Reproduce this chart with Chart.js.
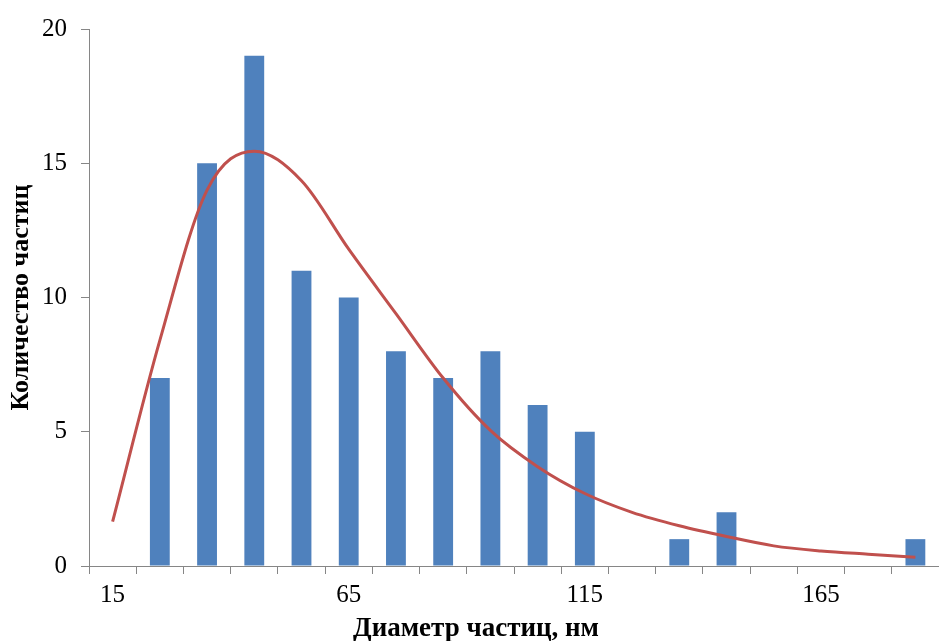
<!DOCTYPE html>
<html>
<head>
<meta charset="utf-8">
<script src="https://cdn.jsdelivr.net/npm/chart.js@4"></script>
<style>
  html, body { margin: 0; padding: 0; background: #fff; }
  #wrap { width: 939px; height: 641px; }
</style>
</head>
<body>
<div id="wrap"><canvas id="chart"></canvas></div>
<script>
// ─── Data ───
const diameters = ['15', '25', '35', '45', '55', '65', '75', '85', '95',
                   '105', '115', '125', '135', '145', '155', '165', '175', '185'];
const counts = [0, 7, 15, 19, 11, 10, 8, 7, 8, 6, 5, 0, 1, 2, 0, 0, 0, 1];
const fitCurve = [1.65, 8.4, 14.0, 15.45, 14.35, 11.8, 9.4, 7.0, 5.05,
                  3.7, 2.7, 2.0, 1.5, 1.1, 0.75, 0.56, 0.44, 0.33];
const yTicks = [0, 5, 10, 15, 20];

const xTitle = 'Диаметр частиц, нм';
const yTitle = 'Количество частиц';

const AXIS = '#868686';
const FONT = "'Liberation Serif', 'Times New Roman', serif";

// x title sits left of the plot centre in the original, so draw it ourselves
const xTitlePlugin = {
    id: 'xTitle',
    afterDraw(chart) {
        const ctx = chart.ctx;
        ctx.save();
        ctx.font = 'bold 27px ' + FONT;
        ctx.fillStyle = '#000';
        ctx.textAlign = 'center';
        ctx.textBaseline = 'alphabetic';
        ctx.fillText(xTitle, 476, 636);
        ctx.restore();
    }
};

new Chart(document.getElementById('chart'), {
    data: {
        labels: diameters,
        datasets: [
            {
                type: 'line',
                data: fitCurve,
                borderColor: '#C0504D',
                borderWidth: 3,
                pointRadius: 0,
                cubicInterpolationMode: 'monotone',
                fill: false,
                order: 0
            },
            {
                type: 'bar',
                data: counts,
                backgroundColor: '#4F81BD',
                barPercentage: 0.42,
                categoryPercentage: 1.0,
                order: 1
            }
        ]
    },
    options: {
        responsive: true,
        maintainAspectRatio: false,
        animation: false,
        layout: { padding: { top: 16, right: 0, left: 0, bottom: 0 } },
        plugins: {
            legend: { display: false },
            tooltip: { enabled: false }
        },
        scales: {
            x: {
                type: 'category',
                offset: true,
                border: { display: true, color: AXIS, width: 1 },
                grid: {
                    display: true,
                    offset: true,
                    drawOnChartArea: false,
                    drawTicks: true,
                    tickLength: 8,
                    color: AXIS
                },
                ticks: {
                    autoSkip: false,
                    maxRotation: 0,
                    padding: 6,
                    color: '#000',
                    font: { family: FONT, size: 25 },
                    callback: (v, i) => (i % 5 === 0 ? diameters[i] : '')
                },
                afterFit: s => { s.height = 75; }
            },
            y: {
                min: 0,
                max: 20,
                afterBuildTicks: s => { s.ticks = yTicks.map(v => ({ value: v })); },
                border: { display: true, color: AXIS, width: 1 },
                grid: {
                    display: true,
                    drawOnChartArea: false,
                    drawTicks: true,
                    tickLength: 8,
                    color: AXIS
                },
                ticks: {
                    padding: 14,
                    color: '#000',
                    font: { family: FONT, size: 25 }
                },
                title: {
                    display: true,
                    text: yTitle,
                    color: '#000',
                    font: { family: FONT, size: 26, weight: 'bold' },
                    padding: { top: 6, bottom: 0 }
                },
                afterFit: s => { s.width = 89; }
            }
        }
    },
    plugins: [xTitlePlugin]
});
</script>
</body>
</html>
